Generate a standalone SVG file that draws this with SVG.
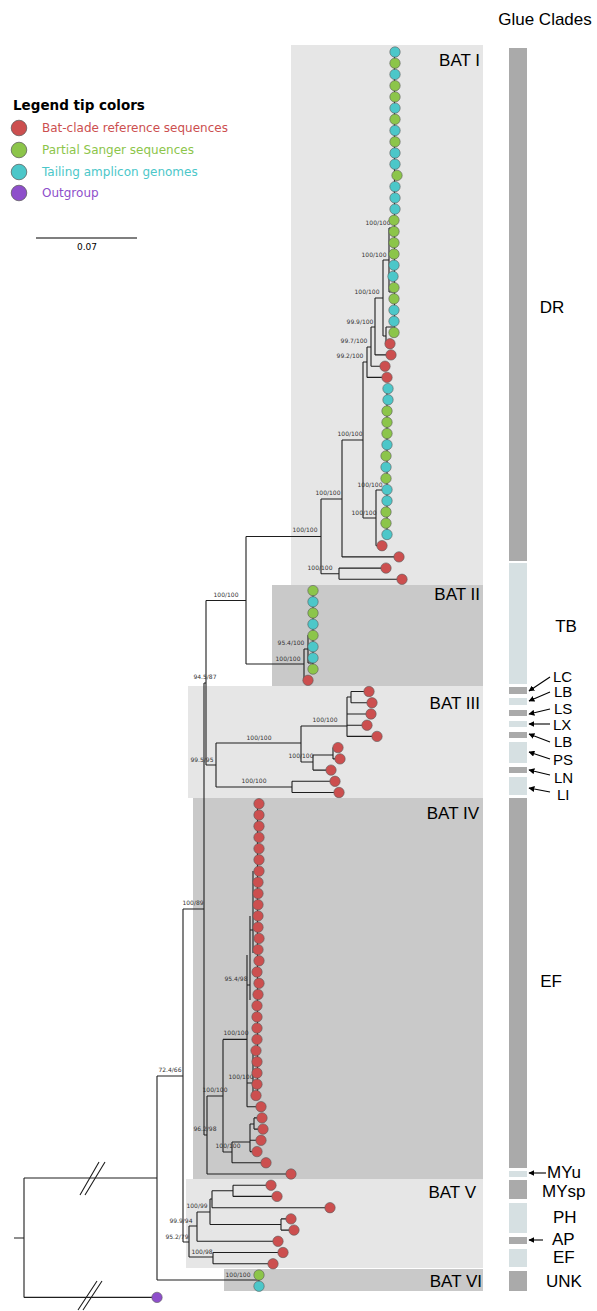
<svg xmlns="http://www.w3.org/2000/svg" width="597" height="1311" viewBox="0 0 597 1311">
<style>
.bgl{fill:#e6e6e6}.bgd{fill:#c9c9c9}
.br{fill:none;stroke:#1e1e1e;stroke-width:1.1}
.nl{font-family:"DejaVu Sans",sans-serif;font-size:6px;fill:#333;text-anchor:middle}
.r{fill:#cc4f4f}.g{fill:#8cc54a}.c{fill:#4cc7c9}.p{fill:#8e4fcb}
.tips circle{stroke:#5a5a5a;stroke-width:0.6}
.bat{font-family:"Liberation Sans",Arial,sans-serif;font-size:17px;fill:#000;text-anchor:end}
.gl{font-family:"Liberation Sans",Arial,sans-serif;font-size:17px;fill:#000}
.sm{font-size:15px}
.bd{fill:#aaaaaa}.bl{fill:#d6e0e2}
.ar{stroke:#000;stroke-width:1.1;fill:none;marker-end:url(#ah)}
.lg{font-family:"DejaVu Sans",sans-serif;font-size:12px}
</style>
<defs>
<marker id="ah" viewBox="0 0 10 10" refX="9" refY="5" markerWidth="6" markerHeight="6" orient="auto" markerUnits="userSpaceOnUse"><path d="M0,0 L10,5 L0,10 z" fill="#000"/></marker>
</defs>
<rect width="597" height="1311" fill="#fff"/>

<g id="clade-boxes">
<rect class="bgl" x="291" y="45" width="192" height="540"/>
<rect class="bgd" x="272" y="585" width="211" height="101"/>
<rect class="bgl" x="188" y="686" width="295" height="112"/>
<rect class="bgd" x="193" y="798" width="290" height="381"/>
<rect class="bgl" x="186" y="1179" width="297" height="89"/>
<rect class="bgd" x="224" y="1269" width="259" height="22"/>
<text class="bat" x="480" y="66">BAT I</text>
<text class="bat" x="480" y="600">BAT II</text>
<text class="bat" x="480" y="709">BAT III</text>
<text class="bat" x="479" y="819">BAT IV</text>
<text class="bat" x="476" y="1198">BAT V</text>
<text class="bat" x="482" y="1287">BAT VI</text>
</g>

<g id="legend">
<text x="13" y="110" style="font-family:'DejaVu Sans',sans-serif;font-size:13.5px;font-weight:bold">Legend tip colors</text>
<circle class="r" cx="19" cy="128" r="7.8" stroke="#555" stroke-width="0.7"/>
<circle class="g" cx="19" cy="150" r="7.8" stroke="#555" stroke-width="0.7"/>
<circle class="c" cx="19" cy="172" r="7.8" stroke="#555" stroke-width="0.7"/>
<circle class="p" cx="19" cy="193" r="7.8" stroke="#555" stroke-width="0.7"/>
<text class="lg r" x="42" y="132">Bat-clade reference sequences</text>
<text class="lg g" x="42" y="154">Partial Sanger sequences</text>
<text class="lg c" x="42" y="176">Tailing amplicon genomes</text>
<text class="lg p" x="42" y="197">Outgroup</text>
<path d="M36 238 H137" stroke="#000" stroke-width="1.2"/>
<text x="87" y="250" style="font-family:'DejaVu Sans',sans-serif;font-size:9px;text-anchor:middle">0.07</text>
</g>

<g id="connectors">
<path class="br" d="
M14 1238 H24 M24 1178 V1297.4 M24 1178 H157 M24 1297.4 H157
M157 1076 V1280 M157 1280 H259 M259 1275 V1286.2 M157 1076 H183
M183 909 V1242 M183 909 H204 M183 1242 H189
M189 1226 V1257 M189 1226 H197 M189 1257 H213
M213 1252.5 V1263.8 M213 1252.5 H283 M213 1263.8 H273
M197 1212 V1241.3 M197 1241.3 H278 M197 1212 H210
M210 1199 V1224.5 M210 1224.5 H281 M210 1199 H212
M212 1190.8 V1207.7 M212 1207.7 H330 M212 1190.8 H233
M233 1185.2 V1196.4 M233 1185.2 H271 M233 1196.4 H277
M281 1218.9 V1230.1 M281 1218.9 H291 M281 1230.1 H294
M204 683 V1135 M204 683 H206 M204 1135 H207
M207 1096 V1174 M207 1174 H291 M207 1096 H223
M223 1039.4 V1152 M223 1039.4 H247 M223 1152 H232
M232 1142 V1162.8 M232 1162.8 H266 M232 1142 H250
M250 1124 V1151.6 M250 1151.6 H257 M250 1140.3 H261 M250 1124 H254
M254 1117.9 V1129.1 M254 1117.9 H262 M254 1129.1 H263
M247 955 V1106.7 M247 1106.7 H261 M247 985 H250 M250 916 V1000 M250 930 H253 M253 871 V953
M247 1083 H253 M253 1050 V1095.5 M257.5 803.7 V1095.5
M206 600.5 V765 M206 600.5 H246 M206 765 H216
M246 536.5 V664 M246 536.5 H321 M246 664 H304
M304 649 V680.3 M304 680.3 H308 M304 649 H308
M308 635 V663 M308 635 H313 M308 663 H313 M313 590.6 V669.1
M216 743 V787 M216 743 H301 M216 787 H292
M292 781.3 V792.5 M292 781.3 H335 M292 792.5 H339
M301 726 V762 M301 726 H347 M301 762 H313
M313 755 V770.1 M313 770.1 H331 M313 755 H333
M333 747.6 V758.9 M333 747.6 H338 M333 758.9 H340
M347 697 V736.4 M347 714 H371 M347 725.2 H367 M347 736.4 H377 M347 697 H351
M351 691.5 V702.8 M351 691.5 H369 M351 702.8 H372
M321 499 V573.7 M321 499 H342 M321 573.7 H339
M339 568.1 V579.3 M339 568.1 H386 M339 579.3 H402
M342 440 V556.9 M342 556.9 H399 M342 440 H363
M363 362 V518 M363 362 H367 M363 518 H376
M376 490 V545.7 M376 545.7 H382 M376 490 H387
M367 347 V377.4 M367 377.4 H387 M367 347 H371
M371 327 V366.2 M371 366.2 H385 M371 327 H375
M375 298 V354.9 M375 354.9 H391 M375 298 H383
M383 260 V336 M383 260 H389 M383 336 H386
M386 327 V343.7 M386 343.7 H390 M386 327 H394
M389 228 V292 M389 228 H394 M389 292 H394
M394.5 52 V332.5 M387 388.6 V534.5"/>
<path class="br" d="M80 1195 L99 1162 M85 1195 L105 1162 M78 1310 L97 1281 M83 1310 L102 1281"/>
</g>

<g id="node-labels">
<text class="nl" x="378" y="225">100/100</text>
<text class="nl" x="374" y="257">100/100</text>
<text class="nl" x="367" y="294">100/100</text>
<text class="nl" x="360" y="324">99.9/100</text>
<text class="nl" x="354" y="343">99.7/100</text>
<text class="nl" x="350" y="358">99.2/100</text>
<text class="nl" x="350" y="436">100/100</text>
<text class="nl" x="370" y="487">100/100</text>
<text class="nl" x="364" y="515">100/100</text>
<text class="nl" x="328" y="495">100/100</text>
<text class="nl" x="305" y="532">100/100</text>
<text class="nl" x="320" y="570">100/100</text>
<text class="nl" x="226" y="597">100/100</text>
<text class="nl" x="291" y="645">95.4/100</text>
<text class="nl" x="288" y="661">100/100</text>
<text class="nl" x="205" y="679">94.5/87</text>
<text class="nl" x="202" y="762">99.5/95</text>
<text class="nl" x="259" y="740">100/100</text>
<text class="nl" x="325" y="722">100/100</text>
<text class="nl" x="301" y="758">100/100</text>
<text class="nl" x="254" y="783">100/100</text>
<text class="nl" x="193" y="905">100/89</text>
<text class="nl" x="236" y="981">95.4/98</text>
<text class="nl" x="236" y="1035">100/100</text>
<text class="nl" x="241" y="1079">100/100</text>
<text class="nl" x="215" y="1092">100/100</text>
<text class="nl" x="205" y="1131">96.2/98</text>
<text class="nl" x="228" y="1148">100/100</text>
<text class="nl" x="170" y="1072">72.4/66</text>
<text class="nl" x="197" y="1208">100/99</text>
<text class="nl" x="181" y="1223">99.9/94</text>
<text class="nl" x="177" y="1239">95.2/79</text>
<text class="nl" x="202" y="1254">100/98</text>
<text class="nl" x="238" y="1277">100/100</text>
</g>

<g id="tips" class="tips">
<circle class="c" cx="395" cy="52" r="5.2"/>
<circle class="g" cx="395" cy="63.2" r="5.2"/>
<circle class="c" cx="395" cy="74.4" r="5.2"/>
<circle class="g" cx="395" cy="85.7" r="5.2"/>
<circle class="g" cx="395" cy="96.9" r="5.2"/>
<circle class="c" cx="395" cy="108.1" r="5.2"/>
<circle class="g" cx="395" cy="119.3" r="5.2"/>
<circle class="c" cx="395" cy="130.5" r="5.2"/>
<circle class="g" cx="395" cy="141.8" r="5.2"/>
<circle class="c" cx="395" cy="153" r="5.2"/>
<circle class="c" cx="395" cy="164.2" r="5.2"/>
<circle class="g" cx="397" cy="175.4" r="5.2"/>
<circle class="c" cx="395" cy="186.6" r="5.2"/>
<circle class="c" cx="395" cy="197.9" r="5.2"/>
<circle class="c" cx="395" cy="209.1" r="5.2"/>
<circle class="g" cx="394" cy="220.3" r="5.2"/>
<circle class="g" cx="394" cy="231.5" r="5.2"/>
<circle class="g" cx="394" cy="242.7" r="5.2"/>
<circle class="g" cx="394" cy="254" r="5.2"/>
<circle class="c" cx="394" cy="265.2" r="5.2"/>
<circle class="c" cx="393" cy="276.4" r="5.2"/>
<circle class="g" cx="394" cy="287.6" r="5.2"/>
<circle class="g" cx="394" cy="298.8" r="5.2"/>
<circle class="c" cx="394" cy="310.1" r="5.2"/>
<circle class="c" cx="394" cy="321.3" r="5.2"/>
<circle class="g" cx="394" cy="332.5" r="5.2"/>
<circle class="r" cx="390" cy="343.7" r="5.2"/>
<circle class="r" cx="391" cy="354.9" r="5.2"/>
<circle class="r" cx="385" cy="366.2" r="5.2"/>
<circle class="r" cx="387" cy="377.4" r="5.2"/>
<circle class="c" cx="388" cy="388.6" r="5.2"/>
<circle class="c" cx="388" cy="399.8" r="5.2"/>
<circle class="g" cx="387" cy="411" r="5.2"/>
<circle class="g" cx="387" cy="422.3" r="5.2"/>
<circle class="g" cx="387" cy="433.5" r="5.2"/>
<circle class="c" cx="387" cy="444.7" r="5.2"/>
<circle class="g" cx="386" cy="455.9" r="5.2"/>
<circle class="c" cx="386" cy="467.1" r="5.2"/>
<circle class="g" cx="386" cy="478.4" r="5.2"/>
<circle class="c" cx="387" cy="489.6" r="5.2"/>
<circle class="c" cx="387" cy="500.8" r="5.2"/>
<circle class="g" cx="386" cy="512" r="5.2"/>
<circle class="g" cx="386" cy="523.2" r="5.2"/>
<circle class="c" cx="387" cy="534.5" r="5.2"/>
<circle class="r" cx="382" cy="545.7" r="5.2"/>
<circle class="r" cx="399" cy="556.9" r="5.2"/>
<circle class="r" cx="386" cy="568.1" r="5.2"/>
<circle class="r" cx="402" cy="579.3" r="5.2"/>
<circle class="g" cx="313" cy="590.6" r="5.2"/>
<circle class="c" cx="313" cy="601.8" r="5.2"/>
<circle class="g" cx="313" cy="613" r="5.2"/>
<circle class="c" cx="313" cy="624.2" r="5.2"/>
<circle class="g" cx="313" cy="635.4" r="5.2"/>
<circle class="c" cx="313" cy="646.7" r="5.2"/>
<circle class="c" cx="313" cy="657.9" r="5.2"/>
<circle class="g" cx="313" cy="669.1" r="5.2"/>
<circle class="r" cx="308" cy="680.3" r="5.2"/>
<circle class="r" cx="369" cy="691.5" r="5.2"/>
<circle class="r" cx="372" cy="702.8" r="5.2"/>
<circle class="r" cx="371" cy="714" r="5.2"/>
<circle class="r" cx="367" cy="725.2" r="5.2"/>
<circle class="r" cx="377" cy="736.4" r="5.2"/>
<circle class="r" cx="338" cy="747.6" r="5.2"/>
<circle class="r" cx="340" cy="758.9" r="5.2"/>
<circle class="r" cx="331" cy="770.1" r="5.2"/>
<circle class="r" cx="335" cy="781.3" r="5.2"/>
<circle class="r" cx="339" cy="792.5" r="5.2"/>
<circle class="r" cx="259" cy="803.7" r="5.2"/>
<circle class="r" cx="259" cy="815" r="5.2"/>
<circle class="r" cx="259" cy="826.2" r="5.2"/>
<circle class="r" cx="259" cy="837.4" r="5.2"/>
<circle class="r" cx="259" cy="848.6" r="5.2"/>
<circle class="r" cx="259" cy="859.8" r="5.2"/>
<circle class="r" cx="259" cy="871.1" r="5.2"/>
<circle class="r" cx="258" cy="882.3" r="5.2"/>
<circle class="r" cx="258" cy="893.5" r="5.2"/>
<circle class="r" cx="258" cy="904.7" r="5.2"/>
<circle class="r" cx="258" cy="915.9" r="5.2"/>
<circle class="r" cx="258" cy="927.2" r="5.2"/>
<circle class="r" cx="259" cy="938.4" r="5.2"/>
<circle class="r" cx="258" cy="949.6" r="5.2"/>
<circle class="r" cx="259" cy="960.8" r="5.2"/>
<circle class="r" cx="257" cy="972" r="5.2"/>
<circle class="r" cx="259" cy="983.3" r="5.2"/>
<circle class="r" cx="258" cy="994.5" r="5.2"/>
<circle class="r" cx="257" cy="1005.7" r="5.2"/>
<circle class="r" cx="257" cy="1016.9" r="5.2"/>
<circle class="r" cx="257" cy="1028.1" r="5.2"/>
<circle class="r" cx="257" cy="1039.4" r="5.2"/>
<circle class="r" cx="256" cy="1050.6" r="5.2"/>
<circle class="r" cx="257" cy="1061.8" r="5.2"/>
<circle class="r" cx="257" cy="1073" r="5.2"/>
<circle class="r" cx="257" cy="1084.2" r="5.2"/>
<circle class="r" cx="256" cy="1095.5" r="5.2"/>
<circle class="r" cx="261" cy="1106.7" r="5.2"/>
<circle class="r" cx="262" cy="1117.9" r="5.2"/>
<circle class="r" cx="263" cy="1129.1" r="5.2"/>
<circle class="r" cx="261" cy="1140.3" r="5.2"/>
<circle class="r" cx="257" cy="1151.6" r="5.2"/>
<circle class="r" cx="266" cy="1162.8" r="5.2"/>
<circle class="r" cx="291" cy="1174" r="5.2"/>
<circle class="r" cx="271" cy="1185.2" r="5.2"/>
<circle class="r" cx="277" cy="1196.4" r="5.2"/>
<circle class="r" cx="330" cy="1207.7" r="5.2"/>
<circle class="r" cx="291" cy="1218.9" r="5.2"/>
<circle class="r" cx="294" cy="1230.1" r="5.2"/>
<circle class="r" cx="278" cy="1241.3" r="5.2"/>
<circle class="r" cx="283" cy="1252.5" r="5.2"/>
<circle class="r" cx="273" cy="1263.8" r="5.2"/>
<circle class="g" cx="259" cy="1275" r="5.2"/>
<circle class="c" cx="259" cy="1286.2" r="5.2"/>
<circle class="p" cx="157" cy="1297.4" r="5.2"/>
</g>

<g id="glue-clades">
<text class="gl" x="545" y="25" text-anchor="middle">Glue Clades</text>
<rect class="bd" x="509" y="48" width="18" height="513"/>
<rect class="bl" x="509" y="563" width="18" height="121"/>
<rect class="bd" x="509" y="687" width="18" height="7"/>
<rect class="bl" x="509" y="698" width="18" height="7"/>
<rect class="bd" x="509" y="710" width="18" height="6"/>
<rect class="bl" x="509" y="721" width="18" height="6"/>
<rect class="bd" x="509" y="732" width="18" height="6"/>
<rect class="bl" x="509" y="742" width="18" height="21"/>
<rect class="bd" x="509" y="767" width="18" height="6"/>
<rect class="bl" x="509" y="777" width="18" height="18"/>
<rect class="bd" x="509" y="798" width="18" height="370"/>
<rect class="bl" x="509" y="1171" width="18" height="6"/>
<rect class="bd" x="509" y="1180" width="18" height="19"/>
<rect class="bl" x="509" y="1203" width="18" height="30"/>
<rect class="bd" x="509" y="1237" width="18" height="7"/>
<rect class="bl" x="509" y="1249" width="18" height="18"/>
<rect class="bd" x="509" y="1271" width="18" height="20"/>
<text class="gl" x="552" y="313" text-anchor="middle">DR</text>
<text class="gl" x="566" y="632" text-anchor="middle">TB</text>
<text class="gl sm" x="553" y="682">LC</text>
<text class="gl sm" x="554" y="697">LB</text>
<text class="gl sm" x="554" y="714">LS</text>
<text class="gl sm" x="553" y="730">LX</text>
<text class="gl sm" x="554" y="747">LB</text>
<text class="gl sm" x="553" y="765">PS</text>
<text class="gl sm" x="554" y="783">LN</text>
<text class="gl sm" x="557" y="800">LI</text>
<text class="gl" x="551" y="987" text-anchor="middle">EF</text>
<text class="gl" x="547" y="1178">MYu</text>
<text class="gl" x="542" y="1197">MYsp</text>
<text class="gl" x="553" y="1223">PH</text>
<text class="gl" x="552" y="1245">AP</text>
<text class="gl" x="553" y="1263">EF</text>
<text class="gl" x="546" y="1287">UNK</text>
<path class="ar" d="M550 677 L529 691"/>
<path class="ar" d="M550 692 L529 701"/>
<path class="ar" d="M550 709 L529 714"/>
<path class="ar" d="M550 724 L529 724"/>
<path class="ar" d="M550 742 L529 734"/>
<path class="ar" d="M550 759 L529 752"/>
<path class="ar" d="M550 775 L529 770"/>
<path class="ar" d="M550 792 L529 788"/>
<path class="ar" d="M546 1173 L529 1173"/>
<path class="ar" d="M543 1240 L529 1240"/>
</g>
</svg>
